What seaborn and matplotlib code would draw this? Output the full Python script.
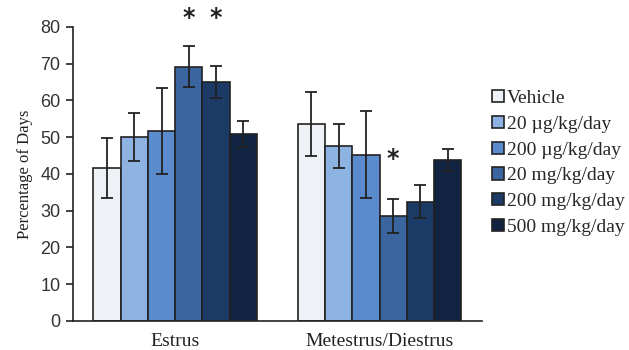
import matplotlib
matplotlib.use("Agg")
import matplotlib.pyplot as plt
import seaborn as sns
import pandas as pd

phases = ["Estrus", "Metestrus/Diestrus"]
groups = ["Vehicle", "20 µg/kg/day", "200 µg/kg/day", "20 mg/kg/day", "200 mg/kg/day", "500 mg/kg/day"]
estrus_mean = [41.6, 50.0, 51.7, 69.2, 65.1, 50.9]
estrus_err = [8.2, 6.6, 11.7, 5.6, 4.4, 3.5]
diestrus_mean = [53.6, 47.6, 45.2, 28.6, 32.5, 43.8]
diestrus_err = [8.8, 6.0, 11.8, 4.6, 4.5, 3.1]
colors = ["#eef1f5", "#8db3e2", "#5a8ccd", "#3a659f", "#1c3a66", "#102442"]
signif = {("Estrus", "20 mg/kg/day"): 82.5, ("Estrus", "200 mg/kg/day"): 82.5,
          ("Metestrus/Diestrus", "20 mg/kg/day"): 44.0}

rows = []
for i, g in enumerate(groups):
    rows.append({"phase": phases[0], "group": g, "value": estrus_mean[i], "err": estrus_err[i]})
    rows.append({"phase": phases[1], "group": g, "value": diestrus_mean[i], "err": diestrus_err[i]})
df = pd.DataFrame(rows)

sns.set_style("white")
fig = plt.figure(figsize=(6.29, 3.5), dpi=100)
ax = fig.add_axes([0.116, 0.083, 0.650, 0.840])

sns.barplot(data=df, x="phase", y="value", hue="group", order=phases, hue_order=groups,
            palette=colors, width=0.80, gap=0, edgecolor="#222222", linewidth=1.2,
            errorbar=None, ax=ax, legend=True, saturation=1)

errs = {"Estrus": estrus_err, "Metestrus/Diestrus": diestrus_err}
means = {"Estrus": estrus_mean, "Metestrus/Diestrus": diestrus_mean}
bar_containers = list(ax.containers)
for gi, cont in enumerate(bar_containers):
    for pi, patch in enumerate(cont.patches):
        ph = phases[pi]
        xc = patch.get_x() + patch.get_width() / 2
        ax.errorbar(xc, means[ph][gi], yerr=errs[ph][gi], fmt="none", ecolor="#222222",
                    elinewidth=1.3, capsize=4, capthick=1.3, zorder=5)
        if (ph, groups[gi]) in signif:
            ax.text(xc, signif[(ph, groups[gi])], "*", ha="center", va="center", fontsize=17,
                    fontweight="bold", color="#222222", clip_on=False, zorder=6)

ax.set_ylim(0, 80)
ax.set_xlim(-0.5, 1.5)
ax.set_yticks(range(0, 81, 10))
ax.tick_params(axis="y", which="both", left=True, length=5, width=1.2, direction="out",
               labelsize=13, color="#222222", pad=4)
ax.tick_params(axis="x", bottom=False, labelsize=14, pad=5)
for lbl in ax.get_yticklabels():
    lbl.set_family("Liberation Sans")
    lbl.set_color("#333333")
for lbl in ax.get_xticklabels():
    lbl.set_family("Liberation Serif")
    lbl.set_color("#222222")
ax.set_xlabel("")
ax.set_ylabel("Percentage of Days", family="Liberation Serif", fontsize=12, color="#222222", labelpad=5)
sns.despine(ax=ax)
for s in ["left", "bottom"]:
    ax.spines[s].set_linewidth(1.2)
    ax.spines[s].set_color("#222222")

handles, labels = ax.get_legend_handles_labels()
ax.get_legend().remove()
fig.legend(handles, labels, loc="upper left", bbox_to_anchor=(0.770, 0.765), frameon=False,
           prop={"family": "Liberation Serif", "size": 14}, handlelength=0.6, handleheight=0.6,
           handletextpad=0.15, labelspacing=0.45, borderaxespad=0)

fig.savefig("out.png", dpi=100)
